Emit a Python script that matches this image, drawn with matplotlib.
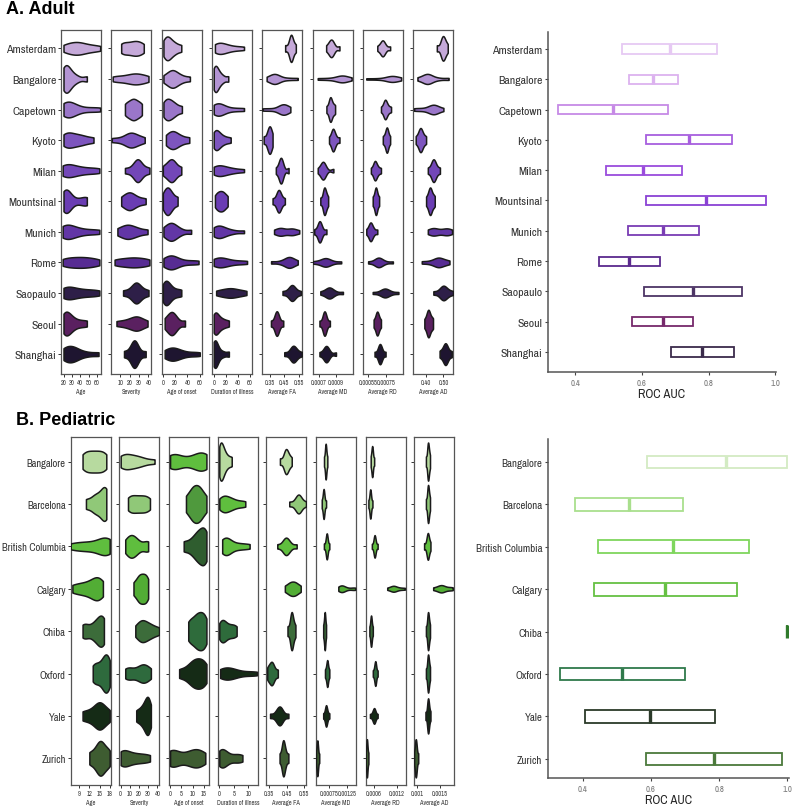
import numpy as np
import matplotlib
matplotlib.use("Agg")
import matplotlib.pyplot as plt
import logging

logging.getLogger("matplotlib.font_manager").setLevel(logging.ERROR)

NARROW = ["Liberation Sans Narrow", "Archivo Narrow", "Roboto Condensed", "Liberation Sans", "DejaVu Sans"]
plt.rcParams["font.family"] = NARROW

# ---------------- adult data ----------------
adult_sites = ["Amsterdam", "Bangalore", "Capetown", "Kyoto", "Milan", "Mountsinal",
               "Munich", "Rome", "Saopaulo", "Seoul", "Shanghai"]

adult_age = [
    [20, 26, 30, 35, 38, 42, 48, 55, 64],
    [20, 21, 22, 23, 25, 27, 30, 36, 48],
    [20, 22, 24, 26, 29, 33, 40, 52, 64],
    [20, 23, 26, 30, 35, 40, 46, 56],
    [19, 21, 24, 28, 32, 38, 45, 54, 63],
    [20, 21, 22, 23, 24, 26, 29, 38, 46, 48],
    [19, 21, 23, 26, 30, 35, 42, 52, 63],
    [19, 24, 30, 35, 40, 45, 50, 56, 63],
    [20, 22, 25, 29, 34, 40, 47, 55, 63],
    [20, 21, 22, 24, 26, 29, 33, 40, 48],
    [20, 22, 25, 28, 31, 34, 38, 48, 62],
]
adult_severity = [
    [11, 14, 18, 22, 25, 28, 31, 35],
    [2, 8, 15, 20, 24, 27, 30, 35, 40],
    [15, 18, 21, 23, 25, 27, 30, 33],
    [1, 10, 17, 19, 21, 23, 26, 30, 36],
    [15, 22, 26, 28, 28.5, 29, 31, 35, 41],
    [11, 15, 18, 20, 22, 25, 30, 37],
    [7, 12, 16, 18, 21, 25, 30, 39],
    [4, 10, 16, 21, 25, 30, 35, 41],
    [13, 20, 24, 26, 27, 28, 30, 34, 40],
    [6, 14, 20, 24, 27, 29, 32, 39],
    [14, 20, 23, 24.5, 25, 25.5, 27, 30, 37],
]
adult_onset = [
    [1, 3, 6, 8, 10, 13, 17, 22, 30],
    [1, 8, 12, 15, 17, 20, 25, 32, 44],
    [1, 4, 7, 10, 13, 17, 22, 31],
    [5, 10, 14, 17, 20, 25, 32, 43],
    [0, 6, 10, 13, 15, 18, 22, 30],
    [0, 3, 6, 8, 10, 13, 17, 24],
    [1, 6, 10, 13, 15, 18, 22, 30, 46],
    [1, 6, 10, 13, 15, 18, 23, 32, 45, 58],
    [0, 2, 4, 6, 8, 11, 15, 22, 30],
    [3, 8, 12, 14, 16, 19, 24, 36],
    [3, 8, 12, 15, 18, 22, 27, 35, 48, 60],
]
adult_duration = [
    [2, 5, 8, 12, 16, 21, 28, 38, 50],
    [0, 1, 2, 3, 5, 7, 10, 15, 24],
    [0, 3, 5, 8, 11, 15, 22, 35, 50],
    [0, 1, 3, 5, 7, 10, 14, 20, 28],
    [0, 3, 7, 11, 15, 20, 27, 36, 50],
    [2, 6, 9, 12, 15, 18, 23],
    [0, 3, 6, 9, 12, 16, 22, 32, 50],
    [0, 4, 8, 12, 16, 22, 30, 42, 55],
    [4, 12, 18, 24, 28, 32, 38, 45, 54],
    [0, 1, 2, 4, 6, 9, 13, 18, 25],
    [0, 0.5, 1, 2, 3, 5, 8, 15, 25],
]
adult_fa = [
    [0.455, 0.48, 0.49, 0.495, 0.495, 0.50, 0.51, 0.527],
    [0.33, 0.36, 0.375, 0.38, 0.385, 0.39, 0.40, 0.43, 0.48, 0.54],
    [0.30, 0.35, 0.40, 0.425, 0.435, 0.44, 0.445, 0.455, 0.47, 0.49],
    [0.31, 0.33, 0.34, 0.345, 0.35, 0.355, 0.36, 0.37],
    [0.392, 0.415, 0.42, 0.425, 0.428, 0.432, 0.44, 0.478],
    [0.37, 0.395, 0.405, 0.41, 0.413, 0.42, 0.43, 0.453],
    [0.38, 0.41, 0.42, 0.43, 0.45, 0.49, 0.50, 0.51, 0.55],
    [0.36, 0.42, 0.455, 0.47, 0.478, 0.485, 0.495, 0.51, 0.54],
    [0.437, 0.47, 0.49, 0.497, 0.50, 0.505, 0.515, 0.53, 0.561],
    [0.359, 0.385, 0.392, 0.397, 0.40, 0.405, 0.415, 0.442],
    [0.449, 0.485, 0.50, 0.507, 0.51, 0.515, 0.525, 0.54, 0.568],
]
adult_md = [
    [0.000787, 0.00082, 0.00083, 0.000845, 0.00085, 0.00086, 0.00088, 0.00094],
    [0.00069, 0.0008, 0.00089, 0.00094, 0.00096, 0.00097, 0.00099, 0.00102, 0.00108],
    [0.00079, 0.00082, 0.00083, 0.000835, 0.00084, 0.00085, 0.00087, 0.00089],
    [0.00082, 0.00085, 0.00086, 0.000865, 0.00087, 0.00088, 0.00090, 0.00094],
    [0.00069, 0.00073, 0.00074, 0.00075, 0.000755, 0.00076, 0.00078, 0.00087],
    [0.00072, 0.00075, 0.00076, 0.000765, 0.00077, 0.00078, 0.00079, 0.00081],
    [0.00065, 0.00069, 0.000705, 0.00071, 0.000715, 0.00072, 0.00074, 0.00079],
    [0.00063, 0.00070, 0.00075, 0.00077, 0.00078, 0.00079, 0.00081, 0.00086, 0.00096],
    [0.00072, 0.00077, 0.00080, 0.00082, 0.000826, 0.00083, 0.00085, 0.00089, 0.00098],
    [0.00071, 0.00075, 0.00076, 0.000765, 0.00077, 0.00078, 0.00079, 0.00083],
    [0.00071, 0.00076, 0.00078, 0.000785, 0.00079, 0.00080, 0.00082, 0.00090],
]
adult_rd = [
    [0.00065, 0.00068, 0.00070, 0.000705, 0.00071, 0.00072, 0.00074, 0.00079],
    [0.00053, 0.00065, 0.00075, 0.00079, 0.00080, 0.00081, 0.00083, 0.00087, 0.00091],
    [0.00069, 0.00072, 0.00073, 0.000735, 0.00074, 0.00075, 0.00077, 0.00080],
    [0.00071, 0.00073, 0.000745, 0.00075, 0.000755, 0.00076, 0.00077, 0.00079],
    [0.00058, 0.00061, 0.00062, 0.000623, 0.00063, 0.00064, 0.00066, 0.00069],
    [0.00060, 0.00062, 0.00063, 0.000634, 0.00064, 0.00065, 0.00067],
    [0.00053, 0.00056, 0.00057, 0.000576, 0.00058, 0.00059, 0.00061, 0.00065],
    [0.00055, 0.00062, 0.00065, 0.00066, 0.000665, 0.00067, 0.00069, 0.00073, 0.00082],
    [0.00060, 0.00068, 0.00071, 0.00073, 0.000735, 0.00074, 0.00076, 0.00080, 0.00088],
    [0.00061, 0.00063, 0.00064, 0.000648, 0.00065, 0.00066, 0.00067, 0.00069],
    [0.00062, 0.00066, 0.00067, 0.000677, 0.00068, 0.00069, 0.00070, 0.00074],
]
adult_ad = [
    [0.462, 0.485, 0.492, 0.496, 0.50, 0.505, 0.512, 0.525],
    [0.35, 0.385, 0.40, 0.405, 0.41, 0.415, 0.43, 0.47, 0.53],
    [0.33, 0.37, 0.41, 0.43, 0.44, 0.445, 0.45, 0.465, 0.50],
    [0.34, 0.355, 0.362, 0.367, 0.37, 0.375, 0.385, 0.40],
    [0.41, 0.43, 0.437, 0.442, 0.445, 0.45, 0.46, 0.48],
    [0.40, 0.413, 0.418, 0.423, 0.426, 0.43, 0.44, 0.45],
    [0.41, 0.43, 0.44, 0.45, 0.46, 0.49, 0.51, 0.52, 0.53, 0.55],
    [0.375, 0.42, 0.45, 0.465, 0.47, 0.475, 0.49, 0.51, 0.535],
    [0.442, 0.475, 0.49, 0.497, 0.50, 0.505, 0.515, 0.53, 0.556],
    [0.39, 0.403, 0.408, 0.413, 0.416, 0.42, 0.43, 0.44],
    [0.478, 0.495, 0.505, 0.51, 0.513, 0.518, 0.528, 0.548],
]
adult_roc_low = [0.540, 0.561, 0.349, 0.612, 0.491, 0.611, 0.557, 0.470, 0.607, 0.571, 0.686]
adult_roc_med = [0.683, 0.633, 0.514, 0.741, 0.604, 0.792, 0.663, 0.562, 0.752, 0.662, 0.781]
adult_roc_high = [0.826, 0.709, 0.679, 0.871, 0.720, 0.971, 0.770, 0.655, 0.900, 0.754, 0.877]

# ---------------- pediatric data ----------------
ped_sites = ["Bangalore", "Barcelona", "British Columbia", "Calgary", "Chiba",
             "Oxford", "Yale", "Zurich"]

ped_age = [
    [10, 11, 12, 13, 14, 15, 16, 17],
    [11, 13, 14, 15, 16, 16.5, 17, 17],
    [6.5, 9, 11, 13, 15, 16, 17, 17.5, 18],
    [7, 9, 10.5, 12, 13, 14, 14.5, 15, 16],
    [10, 11, 13, 14, 15, 15.5, 16, 16.3],
    [13, 14, 15, 16, 16.5, 17, 17.5, 18],
    [10, 12, 13.5, 14.5, 15, 15.5, 16.5, 18],
    [12, 13.5, 14.5, 15, 15.5, 16, 17, 18],
]
ped_severity = [
    [0, 2, 5, 8, 12, 16, 20, 26, 37],
    [8, 11, 14, 18, 21, 25, 28, 32],
    [5, 8, 10, 12, 14, 16, 20, 28, 30],
    [14, 18, 20, 22, 24, 26, 28, 30],
    [16, 20, 22, 24, 26, 29, 32, 36, 42],
    [5, 8, 12, 18, 22, 24, 26, 29, 33],
    [17, 21, 24, 26, 28, 29, 30, 31, 33],
    [0, 1, 3, 6, 10, 15, 20, 26, 32],
]
ped_onset = [
    [0, 1, 2, 4, 8, 11, 13, 14, 15, 16],
    [7, 9, 10, 11, 12, 13, 14, 16],
    [6, 9, 11, 12, 13, 14, 15, 15.5, 16],
    None,
    [8, 9.5, 11, 12, 13, 14, 15, 16],
    [4, 7, 9, 10, 11, 12, 13, 14, 15, 16],
    None,
    [0, 0.5, 1, 3, 7, 9, 11, 12, 13, 15.5],
]
ped_duration = [
    [0, 0.2, 0.4, 0.7, 1, 1.5, 2, 3, 4.3],
    [0, 1, 1.5, 2, 3, 4, 5, 7, 9],
    [1, 1.5, 2, 2.5, 3, 4, 6, 8, 10.5],
    None,
    [0, 0.5, 1, 1.5, 2, 3, 4, 5, 6],
    [0.3, 1, 2, 3, 4, 5, 7, 10, 13],
    None,
    [0, 0.3, 0.7, 1.2, 2, 3, 5, 6.5, 8],
]
ped_fa = [
    [0.412, 0.435, 0.442, 0.446, 0.45, 0.455, 0.465, 0.479],
    [0.465, 0.495, 0.51, 0.515, 0.518, 0.525, 0.535, 0.56],
    [0.397, 0.43, 0.44, 0.445, 0.45, 0.455, 0.47, 0.507],
    [0.44, 0.46, 0.47, 0.48, 0.49, 0.50, 0.51, 0.53],
    [0.455, 0.47, 0.475, 0.478, 0.48, 0.483, 0.49, 0.50],
    [0.34, 0.35, 0.36, 0.365, 0.37, 0.38, 0.40],
    [0.356, 0.39, 0.40, 0.41, 0.412, 0.415, 0.425, 0.46],
    [0.41, 0.425, 0.428, 0.431, 0.433, 0.437, 0.445, 0.46],
]
ped_md = [
    [0.000603, 0.00063, 0.00064, 0.000648, 0.00065, 0.00066, 0.00067, 0.000695],
    [0.00054, 0.00057, 0.000585, 0.00059, 0.000595, 0.0006, 0.00062, 0.00066],
    [0.0006, 0.00065, 0.00067, 0.000675, 0.00068, 0.00069, 0.0007, 0.00075],
    [0.00100, 0.00105, 0.00108, 0.00110, 0.00112, 0.00115, 0.00125, 0.00140, 0.00147],
    [0.00058, 0.0006, 0.000612, 0.00062, 0.000625, 0.00063, 0.00064, 0.00066],
    [0.00063, 0.00066, 0.00068, 0.00069, 0.000695, 0.0007, 0.00072, 0.00075],
    [0.00058, 0.00063, 0.00065, 0.00066, 0.000665, 0.00067, 0.0007, 0.00075],
    [0.00038, 0.0004, 0.00041, 0.000415, 0.00042, 0.00043, 0.00044, 0.00047],
]
ped_rd = [
    [0.00051, 0.00053, 0.00054, 0.000548, 0.00055, 0.00056, 0.00057, 0.0006],
    [0.00045, 0.00048, 0.00049, 0.000498, 0.0005, 0.00051, 0.00052, 0.000555],
    [0.00054, 0.00059, 0.0006, 0.000612, 0.000615, 0.00062, 0.00064, 0.00069],
    [0.00094, 0.00104, 0.00108, 0.00110, 0.00113, 0.00118, 0.00128, 0.00140],
    [0.000476, 0.0005, 0.00051, 0.000518, 0.00052, 0.00053, 0.00054, 0.000565],
    [0.000565, 0.0006, 0.00062, 0.000625, 0.00063, 0.00064, 0.00065, 0.00069],
    [0.00049, 0.00055, 0.00058, 0.000595, 0.0006, 0.00061, 0.00063, 0.00069],
    [0.00038, 0.000395, 0.000405, 0.00041, 0.000413, 0.00042, 0.00043, 0.00045],
]
ped_ad = [
    [0.00119, 0.00122, 0.00123, 0.001235, 0.00124, 0.00125, 0.00126, 0.00128],
    [0.00119, 0.00122, 0.00123, 0.001235, 0.00124, 0.00125, 0.00126, 0.00128],
    [0.00115, 0.0012, 0.00122, 0.00123, 0.001235, 0.00124, 0.00126, 0.00129],
    [0.00135, 0.00145, 0.00150, 0.00153, 0.00155, 0.00160, 0.00170, 0.00178],
    [0.00119, 0.00122, 0.00123, 0.001235, 0.00124, 0.00125, 0.00126, 0.00128],
    [0.00119, 0.00122, 0.00123, 0.001235, 0.00124, 0.00125, 0.00126, 0.00128],
    [0.00118, 0.00122, 0.00123, 0.001235, 0.00124, 0.00125, 0.00126, 0.00129],
    [0.00093, 0.00095, 0.00096, 0.000965, 0.00097, 0.00098, 0.00099, 0.00102],
]
ped_roc_low = [0.588, 0.376, 0.445, 0.432, 0.998, 0.332, 0.406, 0.585]
ped_roc_med = [0.821, 0.535, 0.666, 0.641, 1.000, 0.516, 0.597, 0.784]
ped_roc_high = [0.998, 0.693, 0.888, 0.851, 1.000, 0.701, 0.788, 0.984]

# ---------------- colours ----------------
adult_fill = ["#c5a9d9", "#b394d3", "#9a76c9", "#7d55be", "#7347b8", "#6a3db3",
              "#6236a6", "#572c93", "#2e1f48", "#5a2060", "#1e1530"]
adult_box = ["#e6c9f3", "#dcb2ef", "#c68ae6", "#a75fde", "#9a4cdc", "#8a42d4",
             "#7a3db4", "#5b2a8e", "#4d3566", "#76296b", "#3b2b4b"]
ped_fill = ["#b7da9f", "#90c878", "#5fbe3e", "#52ad35", "#3c6c3a", "#2e6a3d",
            "#152b16", "#3e5c31"]
ped_onset_fill = ["#5fbe3e", "#4f993d", "#2f5d2f", None, "#2e6b3b", "#152b16",
                  None, "#3e5c31"]
ped_duration_fill = ["#b7da9f", "#5fbe3e", "#5fbe3e", None, "#2e6b3b", "#152b16",
                     None, "#3e5c31"]
ped_box = ["#d3ebc3", "#a9df8d", "#7fd65d", "#66c043", "#2f7a2b", "#2f7a4b",
           "#2b3a29", "#4b7a3b"]

W, H = 800, 812


def px_axes(fig, left, top, right, bottom):
    return fig.add_axes([left / W, 1 - bottom / H, (right - left) / W, (bottom - top) / H])


def kde(values, bw_frac=0.5, n=256):
    v = np.asarray(values, dtype=float)
    bw = bw_frac * v.std(ddof=1)
    grid = np.linspace(v.min(), v.max(), n)
    z = (grid[:, None] - v[None, :]) / bw
    dens = np.exp(-0.5 * z ** 2).sum(axis=1) / (len(v) * bw * np.sqrt(2 * np.pi))
    return grid, dens


def violin_panel(ax, samples, colors, sites, xlim, ticks, ticklabels, xlabel, pad,
                 show_sites, label_size):
    profiles = [kde(s) if s is not None else None for s in samples]
    peak = max(p[1].max() for p in profiles if p is not None)
    for i, prof in enumerate(profiles):
        if prof is None:
            continue
        grid, dens = prof
        half = 0.45 * dens / peak
        ax.fill_between(grid, i - half, i + half, facecolor=colors[i],
                        edgecolor="#1b1b1b", linewidth=1.1, zorder=3)
    n = len(sites)
    ax.set_xlim(*xlim)
    ax.set_ylim(n - 1 + pad[1], -pad[0])
    ax.set_yticks(range(n))
    if show_sites:
        ax.set_yticklabels(sites, fontsize=label_size, color="#333333")
    else:
        ax.set_yticklabels([])
    ax.set_xticks(ticks)
    ax.set_xticklabels(ticklabels, fontsize=4.6, color="#333333")
    ax.set_xlabel(xlabel, fontsize=4.6, color="#333333", labelpad=2)
    ax.tick_params(axis="both", length=2, width=0.7, pad=1.5, color="#333333")
    for sp in ax.spines.values():
        sp.set_color("#555555")
        sp.set_linewidth(0.9)


def roc_panel(ax, sites, low, med, high, colors, xlim, pad, label_size):
    n = len(sites)
    ypos = np.arange(n)
    lo = np.asarray(low)
    hi = np.asarray(high)
    ax.barh(ypos, hi - lo, left=lo, height=0.3, facecolor="none",
            edgecolor=colors, linewidth=1.3, zorder=3)
    for y, m, c in zip(ypos, med, colors):
        ax.plot([m, m], [y - 0.15, y + 0.15], color=c, linewidth=2.4,
                solid_capstyle="butt", zorder=4)
    ax.set_xlim(*xlim)
    ax.set_ylim(n - 1 + pad[1], -pad[0])
    ax.set_yticks(ypos)
    ax.set_yticklabels(sites, fontsize=label_size, color="#333333")
    ax.set_xticks([0.4, 0.6, 0.8, 1.0])
    ax.set_xticklabels(["0.4", "0.6", "0.8", "1.0"], fontsize=6.3, color="#777777")
    ax.set_xlabel("ROC AUC", fontsize=9, color="#222222", labelpad=1)
    ax.tick_params(axis="both", length=2, width=0.8, pad=2, color="#444444")
    for side in ["top", "right"]:
        ax.spines[side].set_visible(False)
    for side in ["left", "bottom"]:
        ax.spines[side].set_color("#555555")
        ax.spines[side].set_linewidth(1.1)


fig = plt.figure(figsize=(W / 100, H / 100), dpi=100)
fig.patch.set_facecolor("white")

fig.text(6 / W, 1 - 1 / H, "A. Adult", fontsize=13, fontweight="bold", va="top", ha="left",
         family=["Liberation Sans", "DejaVu Sans"])
fig.text(16 / W, 1 - 412 / H, "B. Pediatric", fontsize=13, fontweight="bold", va="top",
         ha="left", family=["Liberation Sans", "DejaVu Sans"])

adult_panels = [
    (adult_age, (17, 65), [20, 30, 40, 50, 60], ["20", "30", "40", "50", "60"], "Age"),
    (adult_severity, (0.5, 43), [10, 20, 30, 40], ["10", "20", "30", "40"], "Severity"),
    (adult_onset, (-2, 63), [0, 20, 40, 60], ["0", "20", "40", "60"], "Age of onset"),
    (adult_duration, (-3, 63), [0, 20, 40, 60], ["0", "20", "40", "60"], "Duration of illness"),
    (adult_fa, (0.30, 0.57), [0.35, 0.45, 0.55], ["0.35", "0.45", "0.55"], "Average FA"),
    (adult_md, (0.00063, 0.00109), [0.0007, 0.0009], ["0.0007", "0.0009"], "Average MD"),
    (adult_rd, (0.000492, 0.000928), [0.00055, 0.00075], ["0.00055", "0.00075"], "Average RD"),
    (adult_ad, (0.325, 0.556), [0.40, 0.50], ["0.40", "0.50"], "Average AD"),
]
for k, (data, xlim, ticks, labels, name) in enumerate(adult_panels):
    left = 61 + k * 50.3
    ax = px_axes(fig, left, 31, left + 40, 375)
    violin_panel(ax, data, adult_fill, adult_sites, xlim, ticks, labels, name,
                 (0.6, 0.65), k == 0, 8.5)

ax = px_axes(fig, 548, 33, 776, 373)
roc_panel(ax, adult_sites, adult_roc_low, adult_roc_med, adult_roc_high, adult_box,
          (0.318, 1.002), (0.56, 0.66), 8.5)

ped_panels = [
    (ped_age, ped_fill, (6.5, 18.3), [9, 12, 15, 18], ["9", "12", "15", "18"], "Age"),
    (ped_severity, ped_fill, (-1.5, 42.2), [0, 10, 20, 30, 40],
     ["0", "10", "20", "30", "40"], "Severity"),
    (ped_onset, ped_onset_fill, (-0.6, 17), [0, 5, 10, 15], ["0", "5", "10", "15"], "Age of onset"),
    (ped_duration, ped_duration_fill, (-0.45, 13.4), [0, 5, 10], ["0", "5", "10"],
     "Duration of illness"),
    (ped_fa, ped_fill, (0.333, 0.56), [0.35, 0.45, 0.55], ["0.35", "0.45", "0.55"], "Average FA"),
    (ped_md, ped_fill, (0.000372, 0.001483), [0.00075, 0.00125], ["0.00075", "0.00125"],
     "Average MD"),
    (ped_rd, ped_fill, (0.00038, 0.00142), [0.0006, 0.0012], ["0.0006", "0.0012"], "Average RD"),
    (ped_ad, ped_fill, (0.000934, 0.001815), [0.001, 0.0015], ["0.001", "0.0015"], "Average AD"),
]
ped_lefts = [70.7, 119.3, 168.7, 218.0, 266.0, 315.7, 365.7, 414.3]
for k, (data, colors, xlim, ticks, labels, name) in enumerate(ped_panels):
    left = ped_lefts[k]
    ax = px_axes(fig, left, 438, left + 40, 786)
    violin_panel(ax, data, colors, ped_sites, xlim, ticks, labels, name,
                 (0.58, 0.63), k == 0, 7.6)

ax = px_axes(fig, 548, 440, 789, 779)
roc_panel(ax, ped_sites, ped_roc_low, ped_roc_med, ped_roc_high, ped_box,
          (0.298, 1.005), (0.54, 0.45), 7.8)

fig.savefig("out.png", dpi=100, facecolor="white")
